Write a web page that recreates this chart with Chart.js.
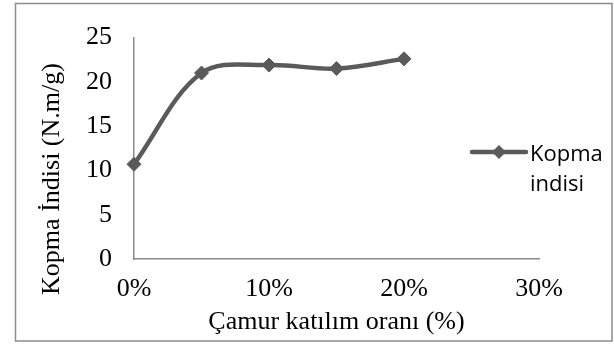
<!DOCTYPE html>
<html>
<head>
<meta charset="utf-8">
<script src="https://cdn.jsdelivr.net/npm/chart.js@4/dist/chart.umd.min.js"></script>
<style>
  html, body { margin: 0; padding: 0; background: #fff; }
  #wrap { width: 614px; height: 347px; position: relative; }
</style>
</head>
<body>
<div id="wrap"><canvas id="c" width="614" height="347"></canvas></div>
<script>
// Sludge addition ratio (%) and breaking index (N.m/g)
const ratios = [0, 5, 10, 15, 20];
const kopmaIndisi = [10.7, 21.0, 21.9, 21.5, 22.6];
const seriesName = ['Kopma', 'indisi'];
const xTicks = [0, 10, 20, 30];
const yTicks = [0, 5, 10, 15, 20, 25];
const xTitle = 'Çamur katılım oranı (%)';
const yTitle = 'Kopma İndisi (N.m/g)';

const lineColor = '#5a5a5a';
const axisColor = '#8a8a8a';
const serif = "'Liberation Serif', 'Times New Roman', serif";

// Outer frame, vertical axis title and a two-line legend on the right
const framePlugin = {
  id: 'frameAndLegend',
  afterDraw(chart) {
    const ctx = chart.ctx;
    ctx.save();
    ctx.strokeStyle = '#8c8c8c';
    ctx.lineWidth = 1.5;
    ctx.strokeRect(15.5, 3.5, 596.5, 337.5);

    // vertical axis title, centred lower than the plot area
    ctx.save();
    ctx.translate(52, 179);
    ctx.rotate(-Math.PI / 2);
    ctx.fillStyle = '#000';
    ctx.font = '26px ' + serif;
    ctx.textAlign = 'center';
    ctx.textBaseline = 'middle';
    ctx.fillText(yTitle, 0, 0);
    ctx.restore();

    // legend sample: line + diamond marker
    const ly = 152;
    ctx.strokeStyle = lineColor;
    ctx.lineWidth = 4.5;
    ctx.lineCap = 'round';
    ctx.beginPath();
    ctx.moveTo(472, ly);
    ctx.lineTo(526, ly);
    ctx.stroke();
    const mx = 499, r = 7;
    ctx.fillStyle = lineColor;
    ctx.beginPath();
    ctx.moveTo(mx - r, ly);
    ctx.lineTo(mx, ly - r);
    ctx.lineTo(mx + r, ly);
    ctx.lineTo(mx, ly + r);
    ctx.closePath();
    ctx.fill();

    ctx.fillStyle = '#000';
    ctx.font = "22px 'Open Sans', sans-serif";
    ctx.textAlign = 'left';
    ctx.textBaseline = 'alphabetic';
    ctx.fillText(seriesName[0], 530, 161);
    ctx.fillText(seriesName[1], 530, 191);
    ctx.restore();
  }
};

new Chart(document.getElementById('c'), {
  type: 'line',
  data: {
    datasets: [{
      label: seriesName.join(' '),
      data: ratios.map((x, i) => ({ x: x, y: kopmaIndisi[i] })),
      borderColor: lineColor,
      backgroundColor: lineColor,
      borderWidth: 4.5,
      tension: 0.35,
      pointStyle: 'rectRot',
      pointRadius: 7,
      pointBorderWidth: 1,
      pointBackgroundColor: lineColor,
      pointBorderColor: lineColor,
      clip: false
    }]
  },
  options: {
    responsive: false,
    animation: false,
    events: [],
    layout: { padding: { left: 0, top: 34, right: 75, bottom: 0 } },
    plugins: {
      legend: { display: false },
      tooltip: { enabled: false }
    },
    scales: {
      x: {
        type: 'linear',
        min: 0,
        max: 30,
        afterBuildTicks(scale) { scale.ticks = xTicks.map(v => ({ value: v })); },
        afterFit(scale) { scale.height = 88; },
        grid: { display: false, drawTicks: false },
        border: { display: true, color: axisColor, width: 1.5 },
        ticks: {
          padding: 15,
          color: '#000',
          font: { family: serif, size: 26 },
          maxRotation: 0,
          callback: v => v + '%'
        },
        title: {
          display: true,
          text: xTitle,
          color: '#000',
          font: { family: serif, size: 26 },
          padding: { top: 0, bottom: 9 }
        }
      },
      y: {
        min: 0,
        max: 25,
        afterBuildTicks(scale) { scale.ticks = yTicks.map(v => ({ value: v })); },
        afterFit(scale) { scale.width = 134; },
        grid: { display: false, drawTicks: false },
        border: { display: true, color: axisColor, width: 1.5 },
        ticks: {
          padding: 22,
          color: '#000',
          font: { family: serif, size: 26 }
        },
        title: { display: false }
      }
    }
  },
  plugins: [framePlugin]
});
</script>
</body>
</html>
